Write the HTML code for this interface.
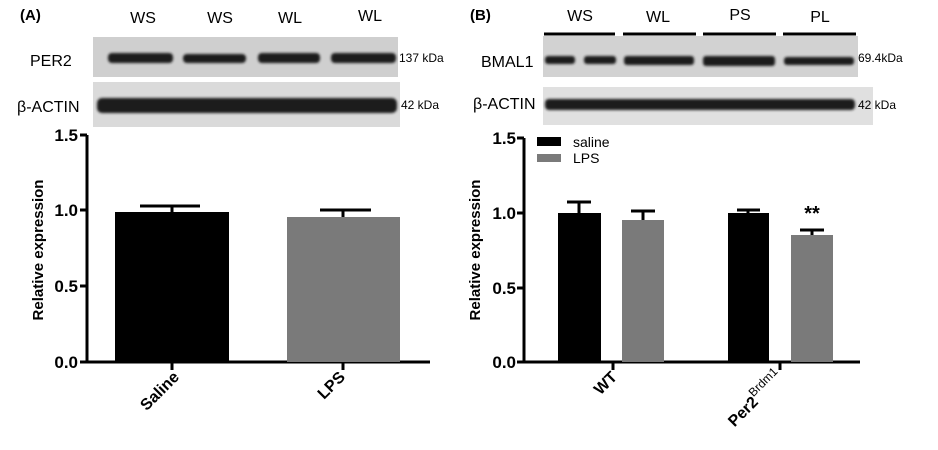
<!DOCTYPE html>
<html><head><style>
body{margin:0;background:#fff;width:938px;height:445px;overflow:hidden}
svg{font-family:"Liberation Sans",sans-serif}
</style></head><body>
<svg width="938" height="445" viewBox="0 0 938 445" xmlns="http://www.w3.org/2000/svg">
<defs>
<filter id="bl"><feGaussianBlur stdDeviation="1.4"/></filter>
</defs>
<!-- Panel A blots -->
<text x="20" y="20" font-size="15" font-weight="bold">(A)</text>
<g font-size="16" text-anchor="middle"><text x="143" y="23">WS</text><text x="220" y="23">WS</text><text x="290" y="23">WL</text><text x="370" y="21">WL</text></g>
<rect x="93" y="37" width="305" height="40" fill="#cfcfcf"/>
<rect x="93" y="82" width="307" height="45" fill="#dadada"/>
<g filter="url(#bl)" fill="#1a1a1a">
<rect x="108" y="53" width="65" height="10" rx="4"/><rect x="183" y="54" width="63" height="9" rx="4"/><rect x="258" y="53" width="62" height="10" rx="4"/><rect x="331" y="53" width="65" height="10" rx="4"/>
<rect x="97" y="98" width="300" height="15" rx="5"/>
</g>
<text x="30" y="66" font-size="16">PER2</text>
<text x="17" y="112" font-size="16">β-ACTIN</text>
<text x="399" y="62" font-size="12">137 kDa</text>
<text x="401" y="109" font-size="12">42 kDa</text>
<!-- Panel A chart -->
<g stroke="#000" stroke-width="3" fill="none">
<path d="M87 135V362H430"/><path d="M80 135H87M80 210H87M80 286H87M80 362H87M172 362V370M343 362V370"/>
</g>
<rect x="115" y="212" width="114" height="150" fill="#000"/>
<rect x="287" y="217" width="113" height="145" fill="#7a7a7a"/>
<g stroke="#000" stroke-width="3"><path d="M172 212V206M140 206H200M343 217V210M320 210H371"/></g>
<g font-size="17" font-weight="bold" text-anchor="end"><text x="78" y="141">1.5</text><text x="78" y="216">1.0</text><text x="78" y="292">0.5</text><text x="78" y="368">0.0</text></g>
<text transform="translate(43 250) rotate(-90)" font-size="15" font-weight="bold" text-anchor="middle">Relative expression</text>
<text transform="translate(180 378) rotate(-45)" font-size="16" font-weight="bold" text-anchor="end">Saline</text>
<text transform="translate(346 378) rotate(-45)" font-size="16" font-weight="bold" text-anchor="end">LPS</text>
<!-- Panel B blots -->
<text x="470" y="20" font-size="15" font-weight="bold">(B)</text>
<g font-size="16" text-anchor="middle"><text x="580" y="21">WS</text><text x="658" y="22">WL</text><text x="740" y="20">PS</text><text x="820" y="22">PL</text></g>
<g stroke="#000" stroke-width="3"><path d="M544 34H615M623 34H696M703 34H776M783 34H856"/></g>
<rect x="543" y="36" width="315" height="41" fill="#d2d2d2"/>
<rect x="543" y="87" width="330" height="38" fill="#e0e0e0"/>
<g filter="url(#bl)" fill="#1a1a1a">
<rect x="545" y="56" width="30" height="8" rx="3"/><rect x="584" y="56" width="32" height="8" rx="3"/><rect x="624" y="56" width="70" height="9" rx="3"/><rect x="703" y="56" width="72" height="10" rx="3"/><rect x="784" y="57" width="70" height="8" rx="3"/>
<rect x="545" y="99" width="310" height="11" rx="4"/>
</g>
<text x="481" y="67" font-size="16">BMAL1</text>
<text x="473" y="109" font-size="16">β-ACTIN</text>
<text x="858" y="62" font-size="12">69.4kDa</text>
<text x="858" y="109" font-size="12">42 kDa</text>
<!-- Panel B chart -->
<g stroke="#000" stroke-width="3" fill="none">
<path d="M524 138V362H860"/><path d="M517 138H524M517 213H524M517 288H524M517 362H524M613 362V370M780 362V370"/>
</g>
<rect x="558" y="213" width="43" height="149" fill="#000"/>
<rect x="622" y="220" width="42" height="142" fill="#7a7a7a"/>
<rect x="728" y="213" width="41" height="149" fill="#000"/>
<rect x="791" y="235" width="42" height="127" fill="#7a7a7a"/>
<g stroke="#000" stroke-width="3"><path d="M579 213V202M567 202H591M643 220V211M631 211H655M748 213V210M737 210H760M812 235V230M800 230H824"/></g>
<text x="812" y="220" font-size="20" font-weight="bold" text-anchor="middle">**</text>
<rect x="537" y="137" width="24" height="9" fill="#000"/>
<rect x="537" y="154" width="24" height="8" fill="#7a7a7a"/>
<text x="573" y="147" font-size="14">saline</text>
<text x="573" y="163" font-size="14">LPS</text>
<g font-size="17" font-weight="bold" text-anchor="end"><text x="516" y="144">1.5</text><text x="516" y="219">1.0</text><text x="516" y="294">0.5</text><text x="516" y="368">0.0</text></g>
<text transform="translate(480 250) rotate(-90)" font-size="15" font-weight="bold" text-anchor="middle">Relative expression</text>
<text transform="translate(618 378) rotate(-45)" font-size="16" font-weight="bold" text-anchor="end">WT</text>
<text transform="translate(784 378) rotate(-45)" font-size="16" font-weight="bold" text-anchor="end">Per2<tspan dy="-8" font-size="12" font-weight="normal">Brdm1</tspan></text>
</svg>
</body></html>
